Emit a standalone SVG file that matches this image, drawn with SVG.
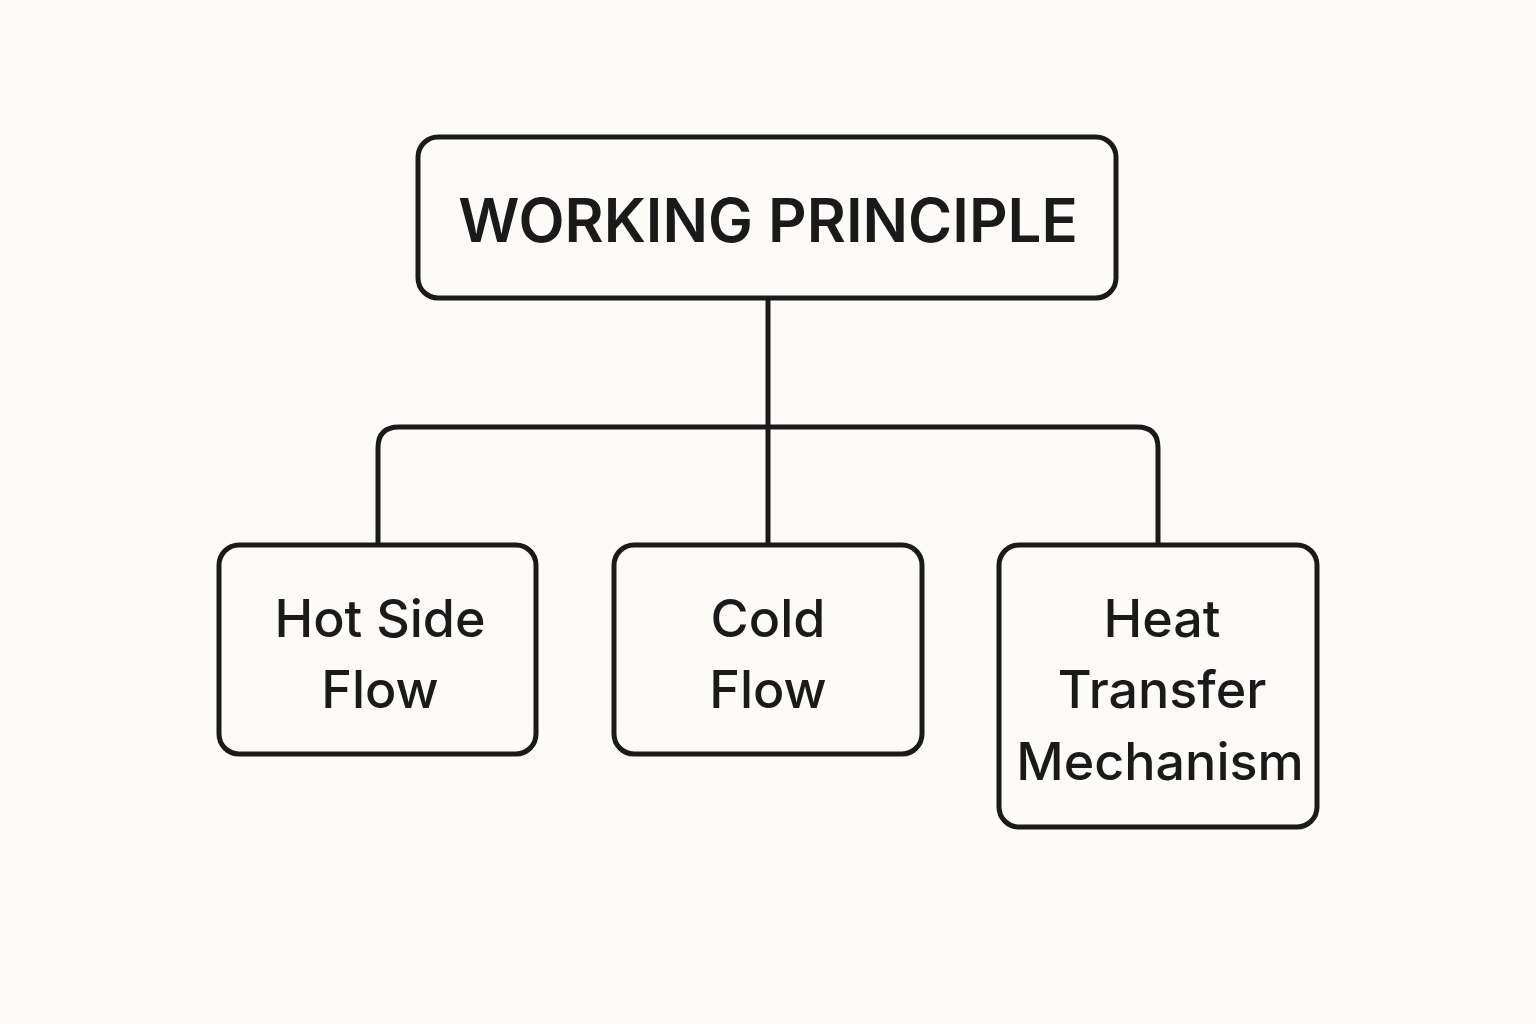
<svg xmlns="http://www.w3.org/2000/svg" width="1536" height="1024" viewBox="0 0 1536 1024">
<style>
.box{fill:none;stroke:#1a1a1a;stroke-width:5}
.ln{fill:none;stroke:#1a1a1a;stroke-width:5}
text{font-family:Inter,"Liberation Sans",sans-serif;fill:#1a1a1a;text-anchor:middle}
.t{font-size:60px;font-weight:600}
.c{font-size:52px;font-weight:500}
</style>
<rect width="1536" height="1024" fill="#fcfbf8"/>
<g id="connectors">
<path class="ln" d="M768 298V543"/>
<path class="ln" d="M378 543V448Q378 427 399 427H1137Q1158 427 1158 448V543"/>
</g>
<g id="root"><rect class="box" x="418" y="137" width="698" height="161" rx="20"/><text class="t" x="768" y="242">WORKING PRINCIPLE</text></g>
<g id="hot"><rect class="box" x="219" y="545" width="317" height="209" rx="20"/><text class="c" x="380" y="637">Hot Side</text><text class="c" x="380" y="708">Flow</text></g>
<g id="cold"><rect class="box" x="614" y="545" width="308" height="209" rx="20"/><text class="c" x="768" y="637">Cold</text><text class="c" x="768" y="708">Flow</text></g>
<g id="heat"><rect class="box" x="999" y="545" width="318" height="282" rx="20"/><text class="c" x="1162" y="637">Heat</text><text class="c" x="1162" y="708">Transfer</text><text class="c" x="1160" y="780">Mechanism</text></g>
</svg>
